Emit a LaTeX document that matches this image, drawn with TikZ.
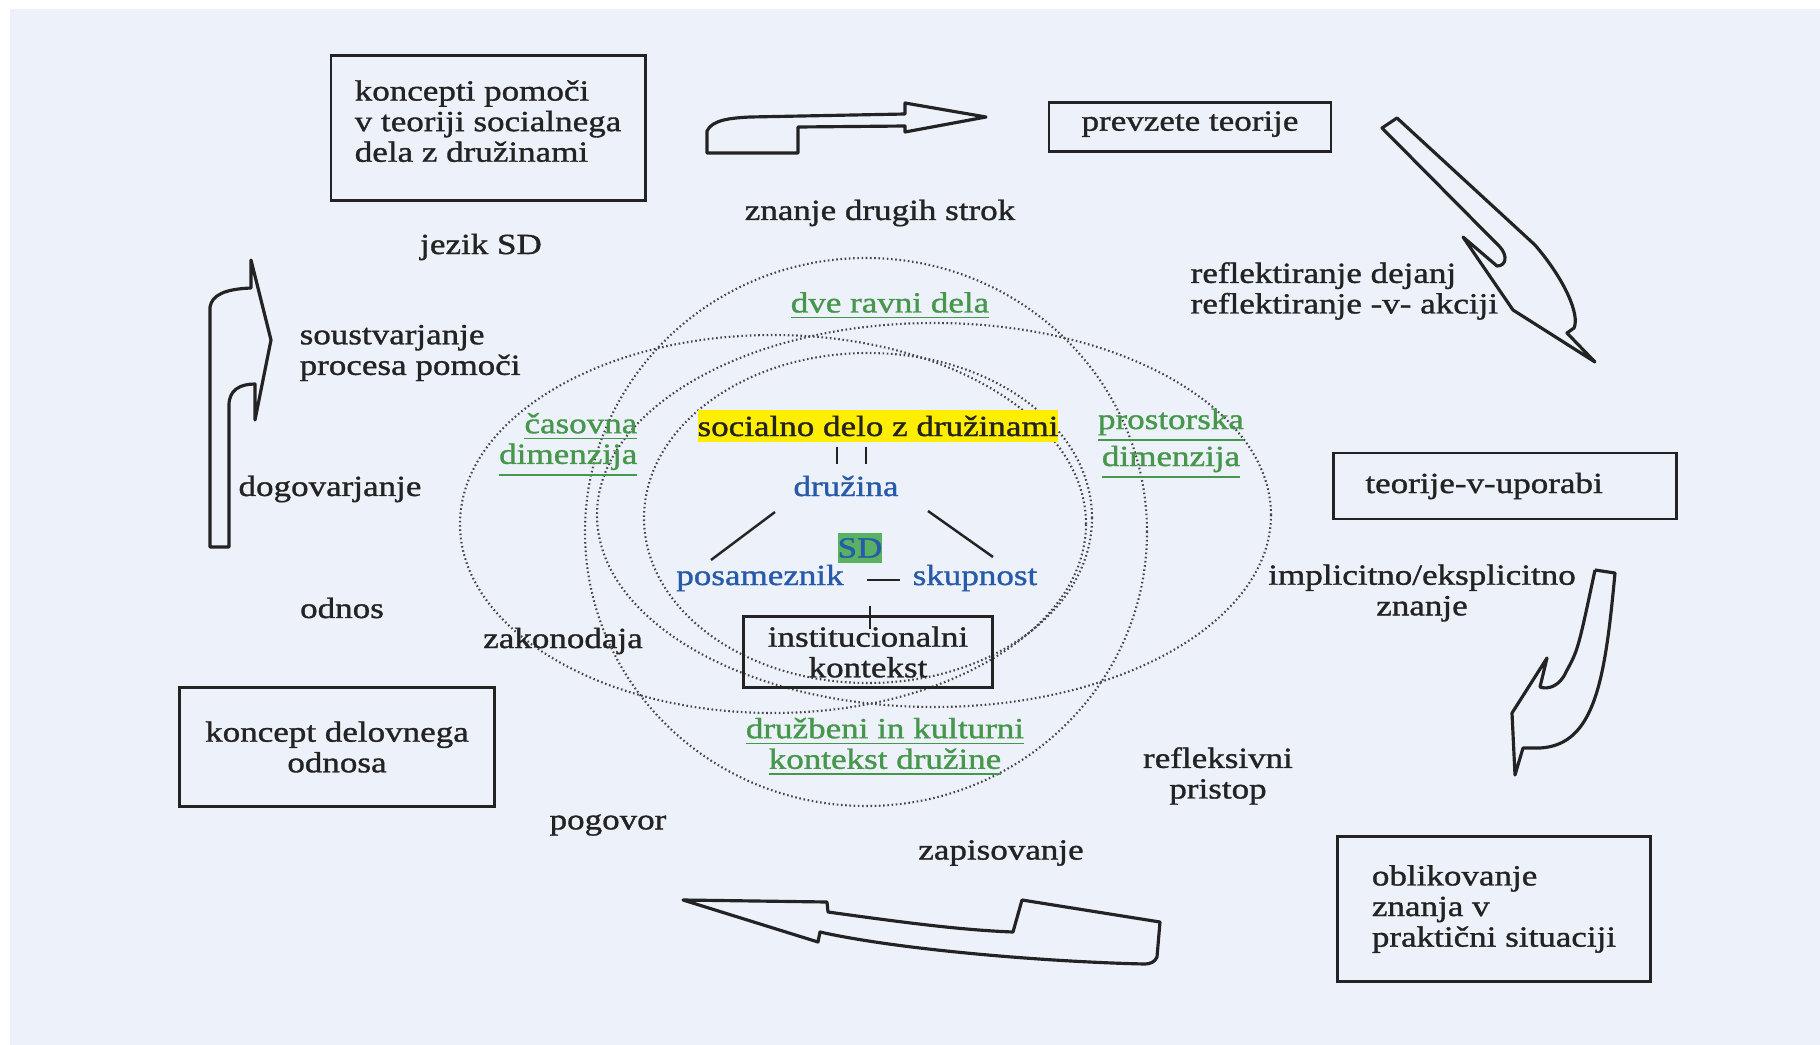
\documentclass[tikz,border=0pt]{standalone}
\usepackage{fontspec}
\setmainfont{Liberation Serif}[FakeStretch=1.2, FakeBold=1.2]
\definecolor{paper}{RGB}{237,242,250}
\definecolor{ink}{RGB}{35,35,35}
\definecolor{dots}{RGB}{70,70,70}
\definecolor{grn}{RGB}{70,150,75}
\definecolor{blu}{RGB}{40,90,170}
\definecolor{hiyel}{RGB}{255,238,0}
\definecolor{higrn}{RGB}{88,178,98}
\begin{document}
\begin{tikzpicture}[x=0.01cm, y=-0.01cm, font=\fontsize{8.3}{8.7}\selectfont,
  every node/.style={text=ink, inner sep=0pt},
  box/.style={draw=ink, line width=0.8pt},
  grnlbl/.style={text=grn, align=center},
  blulbl/.style={text=blu},
  ring/.style={draw=dots, line width=0.6pt, dash pattern=on 0.45pt off 0.75pt},
  link/.style={draw=ink, line width=0.7pt},
  bigarrow/.style={draw=ink, line width=0.9pt, line join=round}]
  \useasboundingbox (0, 0) rectangle (1820, 1045);
  \fill[white] (0, 0) rectangle (1820, 1045);
  \fill[paper] (10, 9) rectangle (1820, 1045);

  \foreach \cx/\cy/\rx/\ry in {866/532/281/274, 773/524/313/189, 934/515/337/192, 868/518/224/165}
  \draw[ring] (\cx, \cy) ellipse [x radius=\rx*0.01cm, y radius=\ry*0.01cm];

  \node (pomoc) at (488, 128) [box, minimum width=3.14cm, minimum height=1.45cm, align=left]
    {koncepti pomoči\\v teoriji socialnega\\dela z družinami\rule[-0.14cm]{0pt}{0.14cm}};
  \node (prevzete) at (1190, 127) [box, minimum width=2.82cm, minimum height=0.49cm]
    {prevzete teorije\rule[-0.12cm]{0pt}{0.12cm}};
  \node (uporaba) at (1505, 486) [box, minimum height=0.66cm, inner xsep=0.32cm, text width=2.79cm, align=left]
    {teorije-v-uporabi};
  \node (oblik) at (1494, 909) [box, minimum width=3.13cm, minimum height=1.45cm, align=left]
    {oblikovanje\\znanja v\\praktični situaciji};
  \node (odnos) at (337, 747) [box, minimum width=3.15cm, minimum height=1.19cm, align=center]
    {koncept delovnega\\odnosa};
  \node (inst) at (868, 652) [box, minimum width=2.49cm, minimum height=0.71cm, align=center]
    {institucionalni\\kontekst};

  \node (znanje) at (880, 213) {znanje drugih strok};
  \node (jezik) at (481, 247) {jezik SD};
  \node (soust) at (299, 353) [anchor=west, align=left] {soustvarjanje\\procesa pomoči};
  \node (dogovor) at (330, 489) {dogovarjanje};
  \node (odn) at (342, 608) {odnos};
  \node (zakon) at (563, 641) {zakonodaja};
  \node (pogovor) at (608, 825) {pogovor};
  \node (zapis) at (1001, 853) {zapisovanje};
  \node (reflpr) at (1218, 776) [align=center] {refleksivni\\pristop};
  \node (impl) at (1422, 593) [align=center] {implicitno/eksplicitno\\znanje};
  \node (refl) at (1190, 291) [anchor=west, align=left] {reflektiranje dejanj\\reflektiranje -v- akciji};

  \node (ravni) at (890, 306) [grnlbl] {\underline{dve ravni dela}};
  \node (casovna) at (638, 445) [grnlbl, anchor=east, align=right] {\underline{časovna}\\\underline{dimenzija}};
  \node (prostor) at (1171, 444) [grnlbl] {\underline{prostorska}\\\underline{dimenzija}};
  \node (druzbeni) at (885, 747) [grnlbl] {\underline{družbeni in kulturni}\\\underline{kontekst družine}};

  \node (soc) at (878, 426) [fill=hiyel, minimum width=3.58cm, minimum height=0.32cm] {socialno delo z družinami};
  \node (druzina) at (846, 486) [blulbl] {družina};
  \node (sd) at (860, 548) [fill=higrn, text=blu, minimum width=0.43cm, minimum height=0.3cm] {SD};
  \node (posam) at (760, 578) [blulbl] {posameznik};
  \node (skup) at (975, 578) [blulbl] {skupnost};

  \draw[link] ([shift={(-41,21)}]soc.center) -- ([shift={(-9,-22)}]druzina.center);
  \draw[link] ([shift={(-12,21)}]soc.center) -- ([shift={(20,-22)}]druzina.center);
  \draw[link] ([shift={(-71,26)}]druzina.center) -- ([shift={(-49,-18)}]posam.center);
  \draw[link] ([shift={(82,25)}]druzina.center) -- ([shift={(18,-21)}]skup.center);
  \draw[link] ([shift={(107,2)}]posam.center) -- ([shift={(-75,2)}]skup.center);
  \draw[link] ([shift={(110,28)}]posam.center) -- ([shift={(2,-23)}]inst.center);

  \draw[bigarrow] (707, 153) -- (707, 131) .. controls (712, 120) and (730, 118) .. (750, 117)
    -- (905, 114) -- (905, 103) -- (986, 117) -- (905, 132) -- (905, 126) -- (798, 127) -- (798, 153) -- cycle;
  \draw[bigarrow] (1382, 128) -- (1397, 118) -- (1535, 245) .. controls (1565, 280) and (1580, 315) .. (1574, 328)
    -- (1567, 333) -- (1595, 362) -- (1513, 310) -- (1463, 237) -- (1497, 266)
    .. controls (1506, 266) and (1508, 256) .. (1500, 247) -- cycle;
  \draw[bigarrow] (1595, 570) -- (1615, 573) .. controls (1605, 680) and (1595, 745) .. (1540, 748)
    -- (1523, 748) -- (1515, 775) -- (1512, 713) -- (1547, 658) -- (1540, 687)
    .. controls (1548, 690) and (1560, 686) .. (1566, 672) .. controls (1578, 650) .. (1595, 570);
  \draw[bigarrow] (683, 900) -- (827, 902) -- (828, 912) .. controls (900, 922) and (960, 930) .. (1013, 932)
    -- (1022, 900) -- (1160, 922) -- (1157, 957) .. controls (1155, 962) and (1150, 964) .. (1145, 964)
    .. controls (1050, 962) and (900, 950) .. (820, 932) -- (818, 942) -- cycle;
  \draw[bigarrow] (210, 547) -- (210, 307) .. controls (212, 295) and (225, 289) .. (251, 288)
    -- (251, 260) -- (271, 340) -- (255, 420) -- (255, 384) .. controls (240, 384) and (229, 390) .. (229, 405)
    -- (229, 547) -- cycle;
\end{tikzpicture}
\end{document}
